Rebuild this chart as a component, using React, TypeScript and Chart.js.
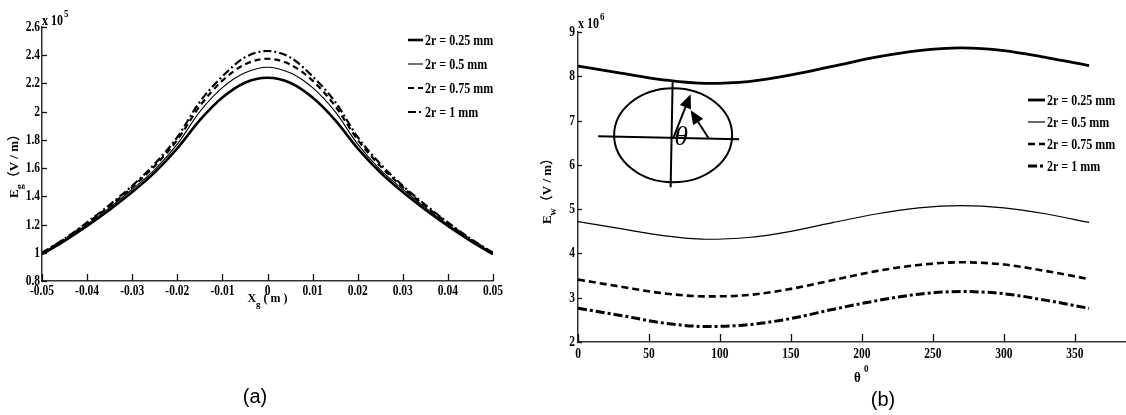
import React, { useEffect, useRef } from "react";
import { Chart, registerables } from "chart.js";

Chart.register(...registerables);

const SERIF = "'Liberation Serif', 'Times New Roman', 'Noto Sans CJK SC', serif";
const SANS = "'Liberation Sans', Arial, sans-serif";

// ---------- Panel (a) data ----------
const xgPositions = [-0.05, -0.045, -0.04, -0.035, -0.03, -0.025, -0.02, -0.015, -0.01, -0.005, 0, 0.005, 0.01, 0.015, 0.02, 0.025, 0.03, 0.035, 0.04, 0.045, 0.05];
const eg025 = [0.99, 1.085, 1.19, 1.305, 1.43, 1.57, 1.74, 1.94, 2.1, 2.205, 2.24, 2.205, 2.1, 1.94, 1.74, 1.57, 1.43, 1.305, 1.19, 1.085, 0.99];
const eg05 = [0.995, 1.09, 1.2, 1.32, 1.45, 1.59, 1.77, 2.0, 2.17, 2.275, 2.315, 2.275, 2.17, 2.0, 1.77, 1.59, 1.45, 1.32, 1.2, 1.09, 0.995];
const eg075 = [1.0, 1.095, 1.21, 1.33, 1.465, 1.615, 1.8, 2.04, 2.22, 2.335, 2.375, 2.335, 2.22, 2.04, 1.8, 1.615, 1.465, 1.33, 1.21, 1.095, 1.0];
const eg1 = [1.0, 1.1, 1.215, 1.34, 1.475, 1.63, 1.82, 2.07, 2.25, 2.385, 2.43, 2.385, 2.25, 2.07, 1.82, 1.63, 1.475, 1.34, 1.215, 1.1, 1.0];

// ---------- Panel (b) data ----------
const thetaDeg = [0, 30, 60, 90, 120, 150, 180, 210, 240, 270, 300, 330, 360];
const ew025 = [8.23, 8.07, 7.92, 7.84, 7.88, 8.03, 8.23, 8.43, 8.58, 8.64, 8.58, 8.42, 8.24];
const ew05 = [4.72, 4.56, 4.4, 4.32, 4.36, 4.5, 4.7, 4.89, 5.03, 5.08, 5.03, 4.89, 4.7];
const ew075 = [3.41, 3.25, 3.1, 3.03, 3.06, 3.2, 3.4, 3.6, 3.74, 3.8, 3.75, 3.6, 3.42];
const ew1 = [2.76, 2.6, 2.43, 2.35, 2.39, 2.53, 2.74, 2.93, 3.08, 3.14, 3.09, 2.94, 2.76];

const seriesLabels = ["2r = 0.25 mm", "2r = 0.5 mm", "2r = 0.75 mm", "2r = 1 mm"];

const stylesA = [
  { borderWidth: 2.6, borderDash: [] as number[] },
  { borderWidth: 1.1, borderDash: [] as number[] },
  { borderWidth: 2.2, borderDash: [6, 4] },
  { borderWidth: 2.2, borderDash: [8, 3, 2, 3] },
];
const stylesB = [
  { borderWidth: 2.8, borderDash: [] as number[] },
  { borderWidth: 1.2, borderDash: [] as number[] },
  { borderWidth: 2.6, borderDash: [7, 4] },
  { borderWidth: 3, borderDash: [9, 3, 3, 3] },
];

function buildDatasets(xs: number[], series: number[][], styles: any[]) {
  return series.map((ys, i) => ({
    label: seriesLabels[i],
    data: xs.map((x, j) => ({ x, y: ys[j] })),
    borderColor: "#000",
    backgroundColor: "#000",
    borderWidth: styles[i].borderWidth,
    borderDash: styles[i].borderDash,
    pointRadius: 0,
    fill: false,
    cubicInterpolationMode: "monotone",
  }));
}

// text stretched vertically, like the reference figure
function stretchText(ctx: any, text: string, x: number, y: number, align: string, size: number, sy: number, weight = "bold") {
  ctx.save();
  ctx.translate(x, y);
  ctx.scale(1, sy);
  ctx.fillStyle = "#000";
  ctx.font = `${weight} ${size}px ${SERIF}`;
  ctx.textAlign = align;
  ctx.textBaseline = "middle";
  ctx.fillText(text, 0, 0);
  ctx.restore();
}

function drawAxisDecor(chart: any, xLen: number, yLen: number, xLabelY: number, yLabelGap: number, fmtX: (v: number) => string, fmtY: (v: number) => string) {
  const { ctx, chartArea } = chart;
  const xs = chart.scales.x;
  const ys = chart.scales.y;
  ctx.save();
  ctx.strokeStyle = "#111";
  ctx.lineWidth = 1.3;
  xs.ticks.forEach((t: any) => {
    const px = Math.round(xs.getPixelForValue(t.value)) + 0.5;
    ctx.beginPath();
    ctx.moveTo(px, chartArea.bottom);
    ctx.lineTo(px, chartArea.bottom - xLen);
    ctx.stroke();
  });
  ys.ticks.forEach((t: any) => {
    const py = Math.round(ys.getPixelForValue(t.value)) + 0.5;
    ctx.beginPath();
    ctx.moveTo(chartArea.left, py);
    ctx.lineTo(chartArea.left + yLen, py);
    ctx.stroke();
  });
  ctx.restore();
  xs.ticks.forEach((t: any) => {
    stretchText(ctx, fmtX(t.value), xs.getPixelForValue(t.value), xLabelY, "center", 11.5, 1.35);
  });
  ys.ticks.forEach((t: any) => {
    stretchText(ctx, fmtY(t.value), chartArea.left - yLabelGap, ys.getPixelForValue(t.value), "right", 11.5, 1.35);
  });
}

function drawLegend(chart: any, x0: number, y0: number, gap: number, lineLen: number, size: number) {
  const { ctx } = chart;
  chart.data.datasets.forEach((ds: any, i: number) => {
    const y = y0 + i * gap;
    ctx.save();
    ctx.strokeStyle = ds.borderColor;
    ctx.lineWidth = ds.borderWidth;
    ctx.setLineDash(ds.borderDash || []);
    ctx.beginPath();
    ctx.moveTo(x0, y);
    ctx.lineTo(x0 + lineLen, y);
    ctx.stroke();
    ctx.restore();
    stretchText(ctx, ds.label, x0 + lineLen + 2, y + 1, "left", size, 1.25);
  });
}

function drawSubText(ctx: any, cx: number, cy: number, rot: number, main: string, sub: string, rest: string, size: number) {
  ctx.save();
  ctx.translate(cx, cy);
  ctx.rotate(rot);
  ctx.fillStyle = "#000";
  ctx.textBaseline = "middle";
  ctx.textAlign = "left";
  const mainFont = `bold ${size}px ${SERIF}`;
  const subFont = `bold ${Math.round(size * 0.75)}px ${SERIF}`;
  ctx.font = mainFont;
  const w1 = ctx.measureText(main).width;
  const w3 = ctx.measureText(rest).width;
  ctx.font = subFont;
  const w2 = ctx.measureText(sub).width;
  let x = -(w1 + w2 + w3) / 2;
  ctx.font = mainFont;
  ctx.fillText(main, x, 0);
  x += w1;
  ctx.font = subFont;
  ctx.fillText(sub, x, size * 0.45);
  x += w2;
  ctx.font = mainFont;
  ctx.fillText(rest, x, 0);
  ctx.restore();
}

function drawExponent(ctx: any, x: number, baseY: number, exp: string) {
  ctx.save();
  ctx.fillStyle = "#000";
  ctx.textAlign = "left";
  ctx.textBaseline = "alphabetic";
  ctx.font = `bold 12px ${SERIF}`;
  ctx.translate(x, baseY);
  ctx.scale(1, 1.2);
  ctx.fillText("x 10", 0, 0);
  const w = ctx.measureText("x 10").width;
  ctx.font = `bold 9px ${SERIF}`;
  ctx.fillText(exp, w + 1, -7);
  ctx.restore();
}

function drawCaption(ctx: any, x: number, y: number, text: string) {
  ctx.save();
  ctx.fillStyle = "#000";
  ctx.font = `20px ${SANS}`;
  ctx.textAlign = "center";
  ctx.textBaseline = "middle";
  ctx.fillText(text, x, y);
  ctx.restore();
}

function arrow(ctx: any, x1: number, y1: number, x2: number, y2: number) {
  const ang = Math.atan2(y2 - y1, x2 - x1);
  const hl = 14;
  const hw = 6;
  const bx = x2 - hl * Math.cos(ang);
  const by = y2 - hl * Math.sin(ang);
  ctx.beginPath();
  ctx.moveTo(x1, y1);
  ctx.lineTo(bx, by);
  ctx.stroke();
  ctx.beginPath();
  ctx.moveTo(x2, y2);
  ctx.lineTo(bx + hw * Math.sin(ang), by - hw * Math.cos(ang));
  ctx.lineTo(bx - hw * Math.sin(ang), by + hw * Math.cos(ang));
  ctx.closePath();
  ctx.fill();
}

function numFmt(decimals: number) {
  return (v: any) => {
    const f = Math.pow(10, decimals);
    return String(Math.round(Number(v) * f) / f);
  };
}

function axisCommon() {
  return {
    grid: { display: false, drawTicks: false },
    border: { display: true, color: "#333", width: 1.5 },
  };
}

function makeConfigA() {
  return {
    type: "line",
    data: { datasets: buildDatasets(xgPositions, [eg025, eg05, eg075, eg1], stylesA) },
    options: {
      responsive: false,
      animation: false,
      devicePixelRatio: 1,
      layout: { padding: { top: 27, right: 47, left: 0, bottom: 0 } },
      plugins: { legend: { display: false }, tooltip: { enabled: false } },
      scales: {
        x: {
          type: "linear",
          min: -0.05,
          max: 0.05,
          ...axisCommon(),
          afterFit: (s: any) => { s.height = 134; },
          ticks: { stepSize: 0.01, autoSkip: false, maxRotation: 0, display: false },
        },
        y: {
          type: "linear",
          min: 0.8,
          max: 2.6,
          ...axisCommon(),
          afterFit: (s: any) => { s.width = 42; },
          ticks: { stepSize: 0.2, autoSkip: false, display: false },
        },
      },
    },
    plugins: [
      {
        id: "decorA",
        afterDraw(chart: any) {
          const { ctx, chartArea } = chart;
          drawAxisDecor(chart, 7, 5, 291, 2, numFmt(2), numFmt(1));
          drawLegend(chart, 408, 40, 24, 15, 12);
          drawSubText(ctx, 15, 163, -Math.PI / 2, "E", "g", "（V / m）", 13);
          drawSubText(ctx, chart.scales.x.getPixelForValue(0), 299, 0, "X", "g", " ( m )", 12);
          drawExponent(ctx, chartArea.left, 25, "5");
          drawCaption(ctx, 255, 397, "(a)");
        },
      },
    ],
  };
}

function makeConfigB() {
  return {
    type: "line",
    data: { datasets: buildDatasets(thetaDeg, [ew025, ew05, ew075, ew1], stylesB) },
    options: {
      responsive: false,
      animation: false,
      devicePixelRatio: 1,
      layout: { padding: { top: 32, right: 0, left: 0, bottom: 0 } },
      plugins: { legend: { display: false }, tooltip: { enabled: false } },
      scales: {
        x: {
          type: "linear",
          min: 0,
          max: 386,
          ...axisCommon(),
          afterFit: (s: any) => { s.height = 73; },
          ticks: { stepSize: 50, includeBounds: false, autoSkip: false, maxRotation: 0, display: false },
        },
        y: {
          type: "linear",
          min: 2,
          max: 9,
          ...axisCommon(),
          afterFit: (s: any) => { s.width = 38; },
          ticks: { stepSize: 1, autoSkip: false, display: false },
        },
      },
    },
    plugins: [
      {
        id: "decorB",
        afterDraw(chart: any) {
          const { ctx, chartArea } = chart;
          drawAxisDecor(chart, 8, 4, 354, 3, numFmt(0), numFmt(0));
          drawLegend(chart, 488, 100, 22, 17, 12);
          drawSubText(ctx, 8, 188, -Math.PI / 2, "E", "w", "（V / m）", 13);
          // x title: theta with superscript
          ctx.save();
          ctx.fillStyle = "#000";
          ctx.font = `bold 13px ${SERIF}`;
          ctx.textAlign = "left";
          ctx.textBaseline = "alphabetic";
          ctx.translate(314, 382);
          ctx.scale(1, 1.2);
          ctx.fillText("θ", 0, 0);
          ctx.font = `bold 9px ${SERIF}`;
          ctx.fillText("0", 10, -8);
          ctx.restore();
          drawExponent(ctx, chartArea.left, 28, "6");
          drawCaption(ctx, 343, 400, "(b)");

          // inset sketch of the wire cross-section
          const xs = chart.scales.x;
          const ys = chart.scales.y;
          const cx = xs.getPixelForValue(67);
          const cy = ys.getPixelForValue(6.67);
          ctx.save();
          ctx.strokeStyle = "#000";
          ctx.fillStyle = "#000";
          ctx.lineWidth = 2;
          ctx.beginPath();
          ctx.ellipse(cx, cy, 59, 47, 0, 0, Math.PI * 2);
          ctx.stroke();
          ctx.beginPath();
          ctx.moveTo(cx - 75, cy + 1);
          ctx.lineTo(cx + 66, cy + 4);
          ctx.stroke();
          ctx.beginPath();
          ctx.moveTo(cx - 0.5, cy - 53);
          ctx.lineTo(cx - 2.5, cy + 52);
          ctx.stroke();
          arrow(ctx, cx + 0.5, cy + 2, cx + 17.5, cy - 41);
          arrow(ctx, cx + 35.5, cy + 3, cx + 17.5, cy - 25);
          ctx.font = `italic 28px ${SERIF}`;
          ctx.textAlign = "center";
          ctx.textBaseline = "middle";
          ctx.fillText("θ", cx + 8, cy + 2);
          ctx.restore();
        },
      },
    ],
  };
}

function Panel({ left, width, makeConfig }: { left: number; width: number; makeConfig: () => any }) {
  const ref = useRef<HTMLCanvasElement | null>(null);
  useEffect(() => {
    if (!ref.current) return;
    const chart = new Chart(ref.current, makeConfig() as any);
    return () => chart.destroy();
  }, [makeConfig]);
  return (
    <canvas
      ref={ref}
      width={width}
      height={415}
      style={{ position: "absolute", left, top: 0, width, height: 415, display: "block" }}
    />
  );
}

export default function App() {
  return (
    <div style={{ position: "absolute", left: 0, top: 0, width: 1126, height: 415, background: "#fff", overflow: "hidden" }}>
      <Panel left={0} width={540} makeConfig={makeConfigA} />
      <Panel left={540} width={586} makeConfig={makeConfigB} />
    </div>
  );
}
